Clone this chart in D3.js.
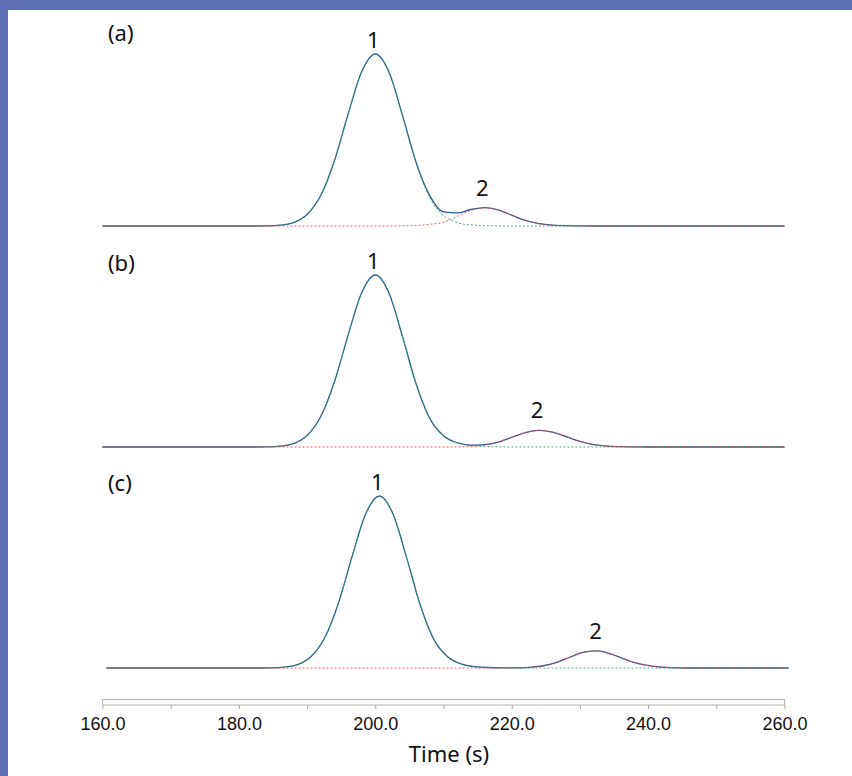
<!DOCTYPE html>
<html lang="en">

<head>
    <meta charset="utf-8">
    <title>Chromatogram peaks</title>
    <script src="https://d3js.org/d3.v7.min.js"></script>
    <style>
        body { margin: 0; background: #ffffff; }
        svg { display: block; }
    </style>
</head>

<body>
<div id="my_dataviz"></div>

<script>
    // Time grid (s) shared by all traces
    var times = [160, 176, 178, 180, 182, 184, 186, 188, 190, 192, 194, 196, 198, 200, 202, 204, 206, 208, 210, 212,
        214, 216, 218, 220, 222, 224, 226, 228, 230, 232, 234, 236, 238, 240, 242, 244, 246, 248, 250, 260]

    // Fitted component 1 (peak 1), signal relative to peak 1 apex
    var peak1_a = [0, 0, 0, 0, 0, 0.1, 0.5, 2.0, 6.7, 17.7, 37.8, 64.9, 89.7, 100, 89.6, 64.0, 36.5, 16.5, 6.0, 2.0,
        0.6, 0.2, 0.1, 0, 0, 0, 0, 0, 0, 0, 0, 0, 0, 0, 0, 0, 0, 0, 0, 0]
    var peak1_b = [0, 0, 0, 0, 0, 0.1, 0.5, 2.0, 6.7, 17.7, 37.8, 64.9, 89.7, 100, 89.6, 64.0, 36.5, 16.5, 6.6, 2.4,
        0.8, 0.3, 0.1, 0, 0, 0, 0, 0, 0, 0, 0, 0, 0, 0, 0, 0, 0, 0, 0, 0]
    var peak1_c = [0, 0, 0, 0, 0, 0.1, 0.5, 2.0, 6.7, 17.7, 37.8, 64.9, 89.7, 100, 89.6, 64.0, 36.5, 16.5, 6.6, 2.4,
        0.8, 0.3, 0.1, 0, 0, 0, 0, 0, 0, 0, 0, 0, 0, 0, 0, 0, 0, 0, 0, 0]

    // Fitted component 2 (peak 2)
    var peak2_a = [0, 0, 0, 0, 0, 0, 0, 0, 0, 0, 0, 0, 0, 0, 0, 0.1, 0.3, 1.0, 2.2, 5.6,
        9.0, 10.5, 9.3, 6.3, 3.3, 1.4, 0.5, 0.2, 0.1, 0, 0, 0, 0, 0, 0, 0, 0, 0, 0, 0]
    var peak2_b = [0, 0, 0, 0, 0, 0, 0, 0, 0, 0, 0, 0, 0, 0, 0, 0, 0, 0, 0, 0.1,
        0.3, 1.1, 2.8, 5.6, 8.4, 9.7, 8.6, 6.0, 3.2, 1.4, 0.5, 0.2, 0.1, 0, 0, 0, 0, 0, 0, 0]
    var peak2_c = [0, 0, 0, 0, 0, 0, 0, 0, 0, 0, 0, 0, 0, 0, 0, 0, 0, 0, 0, 0,
        0, 0, 0, 0.1, 0.4, 1.3, 3.3, 6.4, 9.2, 9.9, 8.0, 5.1, 2.5, 1.1, 0.4, 0.1, 0, 0, 0, 0]

    // retention shift of each run (s)
    var timeShift = [0, 0, 0.6]

    var panelNames = ["(a)", "(b)", "(c)"]
    var peakNames = ["1", "2"]

    // x axis ticks
    var tickValues = [160, 170, 180, 190, 200, 210, 220, 230, 240, 250, 260]
    var tickLabels = [160, 180, 200, 220, 240, 260]
    var axisTitle = "Time (s)"
</script>

<script>
    var W = 852, H = 776

    var svg = d3.select("#my_dataviz")
        .append("svg")
        .attr("width", W)
        .attr("height", H)

    // frame: blue bar at top, blue strip on the left
    svg.append("rect").attr("x", 0).attr("y", 0).attr("width", W).attr("height", 10).attr("fill", "#5f6fb5")
    svg.append("rect").attr("x", 0).attr("y", 0).attr("width", 8).attr("height", H).attr("fill", "#5f6fb5")

    var x = d3.scaleLinear().domain([160, 260]).range([102.5, 784.5])

    // one panel per run
    var panels = [
        { name: panelNames[0], p1: peak1_a, p2: peak2_a, shift: timeShift[0], base: 226, labelY: 41 },
        { name: panelNames[1], p1: peak1_b, p2: peak2_b, shift: timeShift[1], base: 447, labelY: 271 },
        { name: panelNames[2], p1: peak1_c, p2: peak2_c, shift: timeShift[2], base: 668, labelY: 491 }
    ]

    panels.forEach(function (p) {
        var y = d3.scaleLinear().domain([0, 100]).range([p.base, p.base - 172])

        var rows = times.map(function (t, i) {
            return { t: t + p.shift, c1: p.p1[i], c2: p.p2[i], total: p.p1[i] + p.p2[i] }
        })

        var line = function (key) {
            return d3.line()
                .x(function (d) { return x(d.t) })
                .y(function (d) { return y(d[key]) })
                .curve(d3.curveMonotoneX)
        }

        var g = svg.append("g")

        // measured trace
        g.append("path").datum(rows)
            .attr("d", line("total"))
            .attr("fill", "none")
            .attr("stroke", "#2d5896")
            .attr("stroke-width", 1.3)

        // component fits (dotted, on top of the trace)
        g.append("path").datum(rows)
            .attr("d", line("c1"))
            .attr("fill", "none")
            .attr("stroke", "#34a060")
            .attr("stroke-width", 1)
            .attr("stroke-dasharray", "2,2")
            .attr("opacity", 0.85)
        g.append("path").datum(rows)
            .attr("d", line("c2"))
            .attr("fill", "none")
            .attr("stroke", "#f04848")
            .attr("stroke-width", 1)
            .attr("stroke-dasharray", "2,2")
            .attr("opacity", 0.9)

        // panel letter
        g.append("text")
            .attr("x", 108)
            .attr("y", p.labelY)
            .attr("font-family", "Noto Sans, Open Sans, sans-serif")
            .attr("font-size", 22)
            .attr("fill", "#111")
            .text(p.name)

        // peak numbers above the apexes
        ;["c1", "c2"].forEach(function (key, k) {
            var top = d3.greatest(rows, function (d) { return d[key] })
            g.append("text")
                .attr("x", x(top.t) - 2)
                .attr("y", y(top.total) - (k == 0 ? 6 : 12))
                .attr("text-anchor", "middle")
                .attr("font-family", "Noto Sans, Open Sans, sans-serif")
                .attr("font-size", 22)
                .attr("fill", "#111")
                .text(peakNames[k])
        })
    })

    // time axis: thin box with ticks below
    svg.append("rect")
        .attr("x", x(160))
        .attr("y", 699.5)
        .attr("width", x(260) - x(160))
        .attr("height", 5.5)
        .attr("fill", "#fbfbfb")
        .attr("stroke", "#b4b4ac")
        .attr("stroke-width", 1)

    var xAxis = svg.append("g")
        .attr("transform", "translate(0,705)")
        .call(d3.axisBottom(x)
            .tickValues(tickValues)
            .tickSize(4)
            .tickPadding(8)
            .tickFormat(function (d) { return tickLabels.indexOf(d) >= 0 ? d3.format(".1f")(d) : "" }))
    xAxis.select(".domain").remove()
    xAxis.selectAll(".tick line").attr("stroke", "#a8a8a8")
    xAxis.selectAll(".tick text")
        .attr("font-family", "Liberation Sans, Arial, sans-serif")
        .attr("font-size", 18)
        .attr("fill", "#111")

    svg.append("text")
        .attr("x", 449)
        .attr("y", 762)
        .attr("text-anchor", "middle")
        .attr("font-family", "Noto Sans, Open Sans, sans-serif")
        .attr("font-size", 22)
        .attr("fill", "#111")
        .text(axisTitle)
</script>
</body>

</html>
